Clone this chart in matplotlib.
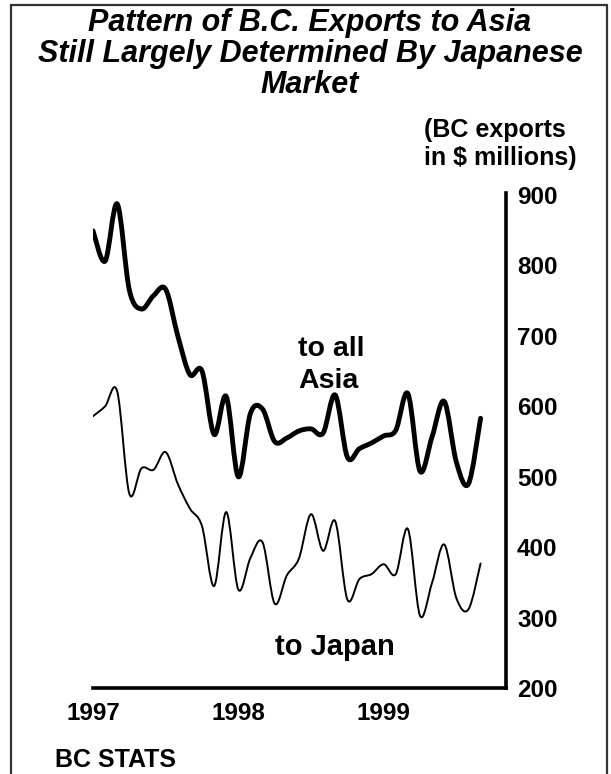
import numpy as np
import matplotlib.pyplot as plt
from matplotlib.path import Path
from matplotlib.patches import PathPatch, Rectangle

plt.rcParams['font.family'] = ['Liberation Sans', 'DejaVu Sans']

# monthly BC exports, Jan 1997 - Sep 1999 ($ millions)
asia = [849, 806, 887, 765, 738, 757, 766, 700, 645, 650, 560, 614, 500,
        590, 596, 550, 555, 565, 568, 562, 616, 528, 540, 548, 558, 566,
        618, 508, 557, 607, 521, 490, 583]
japan = [586, 600, 621, 476, 512, 510, 535, 490, 455, 430, 345, 450, 340,
         385, 407, 320, 360, 384, 447, 395, 437, 326, 355, 362, 376, 362,
         426, 303, 350, 404, 328, 312, 377]
year_labels = ['1997', '1998', '1999']
year_pos = [0, 12, 24]
yticks = [200, 300, 400, 500, 600, 700, 800, 900]


def smooth_path(vals):
    # excel style smoothed line: cubic bezier through every monthly point
    p = np.column_stack([np.arange(len(vals), dtype=float), np.array(vals, dtype=float)])
    pp = np.vstack([p[:1], p, p[-1:]])
    verts = [p[0]]
    codes = [Path.MOVETO]
    for i in range(len(p) - 1):
        c1 = p[i] + (pp[i + 2] - pp[i]) / 6
        c2 = p[i + 1] - (pp[i + 3] - pp[i + 1]) / 6
        verts += [c1, c2, p[i + 1]]
        codes += [Path.CURVE4] * 3
    return Path(verts, codes)


W, H = 611, 774
fig = plt.figure(figsize=(W / 100, H / 100), dpi=100)
ax = fig.add_axes([93 / W, 1 - 688.3 / H, (506 - 93) / W, (688.3 - 192.7) / H])

ax.add_patch(PathPatch(smooth_path(asia), fill=False, lw=3.5, ec='black',
                       capstyle='round', joinstyle='round'))
ax.add_patch(PathPatch(smooth_path(japan), fill=False, lw=1.4, ec='black',
                       capstyle='round', joinstyle='round'))

ax.set_xlim(0, 34.1)
ax.set_ylim(200, 903)
for s in ['top', 'left']:
    ax.spines[s].set_visible(False)
for s in ['right', 'bottom']:
    ax.spines[s].set_linewidth(2.6)
    ax.spines[s].set_color('black')
ax.yaxis.tick_right()
ax.set_yticks(yticks)
ax.set_yticklabels([str(v) for v in yticks], fontsize=17.5, fontweight='bold')
ax.set_xticks(year_pos)
ax.set_xticklabels(year_labels, fontsize=17.5, fontweight='bold')
ax.tick_params(axis='y', length=0, pad=8)
ax.tick_params(axis='x', length=0, pad=10)

fig.text(310 / W, 1 - 54 / H,
         'Pattern of B.C. Exports to Asia\nStill Largely Determined By Japanese\nMarket',
         ha='center', va='center', fontsize=22, fontweight='bold', style='italic',
         linespacing=1.06)
fig.text(424 / W, 1 - 144 / H, '(BC exports\nin $ millions)', ha='left', va='center',
         fontsize=18, fontweight='bold', linespacing=1.2)
fig.text(298 / W, 1 - 365 / H, 'to all\nAsia', ha='left', va='center',
         fontsize=20.5, fontweight='bold', linespacing=1.35)
fig.text(275 / W, 1 - 655 / H, 'to Japan', ha='left', va='baseline',
         fontsize=21, fontweight='bold')
fig.text(55 / W, 1 - 760 / H, 'BC STATS', ha='left', va='center',
         fontsize=18, fontweight='bold')

fig.add_artist(Rectangle((11 / W, -0.05), (607 - 11) / W, 1.05 - 5 / H,
                         transform=fig.transFigure, fill=False, ec='#333333', lw=1.6))

fig.savefig('out.png', dpi=100)
